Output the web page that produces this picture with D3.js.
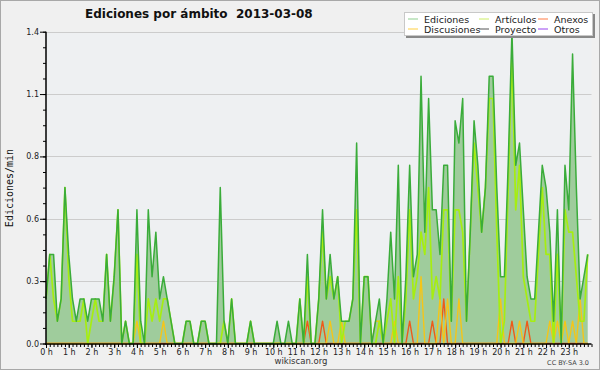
<!DOCTYPE html>
<html>
<head>
<meta charset="utf-8">
<script src="https://cdn.jsdelivr.net/npm/d3@7"></script>
<style>
  body { margin: 0; background: #f0f0f0; }
  svg { display: block; }
  .tick text { font-family: "DejaVu Sans", sans-serif; font-size: 8px; fill: #222; }
</style>
</head>
<body>
<script>
// 10分ごとの編集数(/min) 0:00 〜 23:50
var ediciones = [
  0.2,0.4,0.4,0.1,0.2,0.7, 0.4,0.2,0.1,0.2,0.2,0.1, 0.2,0.2,0.2,0.1,0.4,0.1, 0.3,0.6,0.0,0.1,0.0,0.0,
  0.6,0.1,0.0,0.6,0.3,0.5, 0.2,0.3,0.2,0.1,0.0,0.0, 0.0,0.1,0.1,0.0,0.0,0.1, 0.1,0.0,0.0,0.0,0.7,0.1,
  0.0,0.2,0.0,0.0,0.0,0.0, 0.1,0.0,0.0,0.0,0.0,0.0, 0.0,0.1,0.0,0.0,0.1,0.0, 0.0,0.2,0.0,0.4,0.0,0.0,
  0.2,0.6,0.2,0.4,0.2,0.3, 0.1,0.1,0.1,0.2,0.9,0.0, 0.3,0.3,0.0,0.1,0.2,0.0, 0.2,0.5,0.2,0.8,0.0,0.3,
  0.8,0.3,0.4,1.2,0.5,1.1, 0.6,0.6,0.4,0.8,0.8,0.1, 1.0,0.9,1.1,0.1,0.5,1.0, 0.8,0.5,0.7,1.2,1.2,0.7,
  0.3,0.3,0.8,1.4,0.8,0.9, 0.6,0.3,0.2,0.2,0.5,0.8, 0.7,0.5,0.1,0.6,0.0,0.8, 0.6,1.3,0.7,0.2,0.3,0.4
];
var articulos = [
  0.2,0.4,0.2,0.1,0.2,0.7, 0.3,0.1,0.1,0.1,0.2,0.0, 0.1,0.2,0.1,0.1,0.4,0.1, 0.3,0.6,0.0,0.1,0.0,0.0,
  0.4,0.0,0.0,0.2,0.1,0.2, 0.1,0.2,0.2,0.1,0.0,0.0, 0.0,0.1,0.1,0.0,0.0,0.1, 0.1,0.0,0.0,0.0,0.0,0.1,
  0.0,0.2,0.0,0.0,0.0,0.0, 0.1,0.0,0.0,0.0,0.0,0.0, 0.0,0.0,0.0,0.0,0.0,0.0, 0.0,0.2,0.0,0.3,0.0,0.0,
  0.2,0.5,0.2,0.3,0.2,0.3, 0.0,0.1,0.1,0.2,0.6,0.0, 0.3,0.3,0.0,0.0,0.1,0.0, 0.1,0.2,0.0,0.3,0.0,0.2,
  0.6,0.2,0.3,0.5,0.4,0.7, 0.2,0.3,0.2,0.6,0.6,0.1, 0.6,0.6,0.5,0.1,0.5,0.9, 0.7,0.5,0.7,1.1,1.1,0.5,
  0.0,0.1,0.7,1.3,0.6,0.8, 0.3,0.2,0.1,0.1,0.4,0.7, 0.4,0.4,0.0,0.4,0.0,0.6, 0.5,0.5,0.3,0.1,0.1,0.4
];
var discusiones = [
  0,0,0,0,0,0, 0,0,0,0,0,0, 0,0,0,0,0,0, 0,0,0,0,0,0,
  0.1,0,0,0,0,0, 0,0.1,0,0,0,0, 0,0,0,0,0,0, 0,0,0,0,0,0,
  0,0,0,0,0,0, 0,0,0,0,0,0, 0,0,0,0,0,0, 0,0,0,0,0,0,
  0,0,0,0.1,0,0, 0.1,0,0,0,0,0, 0,0,0,0.1,0.1,0, 0,0,0.1,0,0,0,
  0,0,0,0.3,0,0, 0,0,0.2,0,0.2,0, 0,0.2,0,0,0,0, 0,0,0,0,0,0,
  0.2,0,0,0,0,0.1, 0,0,0,0,0,0, 0,0.1,0,0.1,0,0.1, 0,0.1,0,0.2,0,0
];
var anexos = [
  0,0,0,0,0,0, 0,0,0,0,0,0, 0,0,0,0,0,0, 0,0,0,0,0,0,
  0,0,0,0,0,0, 0,0,0,0,0,0, 0,0,0,0,0,0, 0,0,0,0,0,0,
  0,0,0,0,0,0, 0,0,0,0,0,0, 0,0,0,0,0,0, 0,0,0,0.1,0,0,
  0,0.1,0,0,0,0, 0,0,0,0,0,0, 0,0,0,0,0,0, 0,0,0,0,0,0,
  0.1,0,0,0,0,0, 0.1,0,0,0.2,0,0, 0,0,0,0,0,0, 0,0,0,0,0,0,
  0,0,0,0.1,0,0, 0,0.1,0,0,0,0, 0,0,0,0,0,0, 0,0,0,0,0,0
];
var proyecto = ediciones.map(function(){ return 0; });
var otros = ediciones.map(function(){ return 0; });

var horas = d3.range(0, 24);               // 0 h 〜 23 h
var yTicks = [0, 0.28, 0.56, 0.84, 1.12, 1.4];

// 凡例
var leyenda = [
  {name: "Ediciones",   color: "#8fcf8f", col: 0, row: 0},
  {name: "Artículos",   color: "#cdee66", col: 1, row: 0},
  {name: "Anexos",      color: "#ff7a44", col: 2, row: 0},
  {name: "Discusiones", color: "#ffcf40", col: 0, row: 1},
  {name: "Proyecto",    color: "#555555", col: 1, row: 1},
  {name: "Otros",       color: "#9944ee", col: 2, row: 1}
];

var W = 600, H = 370;
var svg = d3.select("body").append("svg").attr("width", W).attr("height", H);

// 背景と枠
svg.append("rect")
  .attr("x", 0.5).attr("y", 0.5).attr("width", W - 1).attr("height", H - 1)
  .attr("fill", "#f0f0f0").attr("stroke", "#a8a8a8");

var x = d3.scaleLinear().domain([0, 1440]).range([46, 591.5]);
var y = d3.scaleLinear().domain([0, 1.4]).range([343.5, 31.7]);

// プロット領域
svg.append("rect")
  .attr("x", 46).attr("y", 31.7).attr("width", 545.5).attr("height", 343.5 - 31.7)
  .attr("fill", "#eef0f2");

// グリッド
svg.append("g").selectAll("line").data(yTicks.slice(1)).join("line")
  .attr("x1", 46).attr("x2", 591.5)
  .attr("y1", function(d){ return Math.round(y(d)) + 0.5; })
  .attr("y2", function(d){ return Math.round(y(d)) + 0.5; })
  .attr("stroke", "#cccccc");

function pts(arr){
  return arr.map(function(v, i){ return {t: i * 10, v: v}; });
}

var area = d3.area()
  .x(function(d){ return x(d.t); })
  .y0(y(0))
  .y1(function(d){ return y(d.v); });
var line = d3.line()
  .x(function(d){ return x(d.t); })
  .y(function(d){ return y(d.v); });

// 合計(塗りつぶし)
svg.append("path").datum(pts(ediciones))
  .attr("d", area).attr("fill", "#9fcc9c");

// 各系列の線
var series = [
  {data: otros, color: "#9944ee", w: 1.2},
  {data: proyecto, color: "#555555", w: 1.2},
  {data: anexos, color: "#ee5a1a", w: 1.4},
  {data: discusiones, color: "#f5c518", w: 1.4},
  {data: articulos, color: "#a6ee10", w: 1.7},
  {data: ediciones, color: "#3aac3a", w: 1.5}
];
series.forEach(function(s){
  svg.append("path").datum(pts(s.data))
    .attr("d", line)
    .attr("fill", "none")
    .attr("stroke", s.color)
    .attr("stroke-width", s.w)
    .attr("stroke-linejoin", "round");
});

// Y軸
var yAxis = svg.append("g").attr("transform", "translate(46,0)");
yAxis.call(d3.axisLeft(y).tickValues(d3.range(0, 1.401, 0.07)).tickSize(3).tickFormat(""));
yAxis.append("g").call(d3.axisLeft(y).tickValues(yTicks).tickSize(6).tickFormat(d3.format(".1f")).tickPadding(1));
yAxis.selectAll(".domain").remove();
yAxis.selectAll("line").attr("stroke", "#000");
svg.append("line").attr("x1", 46).attr("x2", 46).attr("y1", 31.7).attr("y2", 345)
  .attr("stroke", "#000").attr("stroke-width", 1.5);

// X軸
var xAxis = svg.append("g").attr("transform", "translate(0,344)");
xAxis.call(d3.axisBottom(x).tickValues(d3.range(0, 1441, 10)).tickSize(3).tickFormat(""));
xAxis.append("g").call(d3.axisBottom(x).tickValues(horas.map(function(h){ return h * 60; }))
  .tickSize(4).tickPadding(1).tickFormat(function(d){ return (d / 60) + " h"; }));
xAxis.selectAll(".domain").remove();
xAxis.selectAll("line").attr("stroke", "#000");
svg.append("line").attr("x1", 45).attr("x2", 591.5).attr("y1", 344).attr("y2", 344)
  .attr("stroke", "#000").attr("stroke-width", 1.5);

// タイトル
svg.append("text")
  .attr("x", 85).attr("y", 18)
  .attr("xml:space", "preserve")
  .style("white-space", "pre")
  .style("font-family", "'DejaVu Sans', sans-serif")
  .style("font-weight", "bold").style("font-size", "12px")
  .attr("fill", "#111")
  .text("Ediciones por ámbito  2013-03-08");

// Y軸ラベル
svg.append("text")
  .attr("transform", "translate(13,188) rotate(-90)")
  .attr("text-anchor", "middle")
  .style("font-family", "'DejaVu Sans Mono', monospace").style("font-size", "10px")
  .attr("fill", "#111")
  .text("Ediciones/min");

// フッター
svg.append("text")
  .attr("x", 301).attr("y", 364).attr("text-anchor", "middle")
  .style("font-family", "'DejaVu Sans', sans-serif").style("font-size", "8.5px")
  .attr("fill", "#333").text("wikiscan.org");
svg.append("text")
  .attr("x", 589).attr("y", 365).attr("text-anchor", "end")
  .style("font-family", "'DejaVu Sans', sans-serif").style("font-size", "6.5px")
  .attr("fill", "#444").text("CC BY-SA 3.0");

// 凡例ボックス
var lg = svg.append("g");
lg.append("rect").attr("x", 406).attr("y", 14).attr("width", 189).attr("height", 24)
  .attr("fill", "#888");
lg.append("rect").attr("x", 404.5).attr("y", 12.5).attr("width", 188).attr("height", 23)
  .attr("fill", "#fff").attr("stroke", "#c8c8c8");
var colX = [408, 479, 538];
leyenda.forEach(function(d){
  var lx = colX[d.col], ly = 19 + d.row * 10;
  lg.append("line").attr("x1", lx).attr("x2", lx + 10).attr("y1", ly).attr("y2", ly)
    .attr("stroke", d.color).attr("stroke-width", 1);
  lg.append("text").attr("x", lx + 16).attr("y", ly + 3.5)
    .style("font-family", "'DejaVu Sans', sans-serif").style("font-size", "9.5px")
    .attr("fill", "#222").text(d.name);
});
</script>
</body>
</html>
